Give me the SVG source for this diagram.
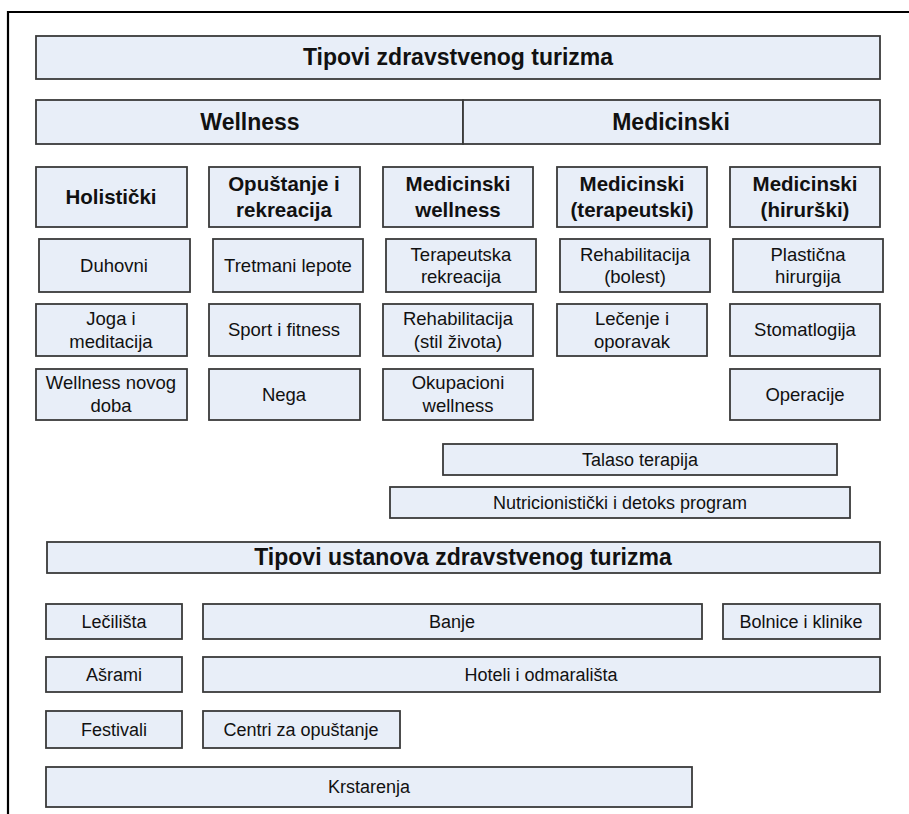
<svg xmlns="http://www.w3.org/2000/svg" width="909" height="814" viewBox="0 0 909 814">
<style>
.b{fill:#e8eef8;stroke:#3a3a3a;stroke-width:1.8}
.t{font-family:"Liberation Sans",Arial,sans-serif;fill:#111;text-anchor:middle}
.h1{font-size:23px;font-weight:bold}
.h2{font-size:20.5px;font-weight:bold}
.s{font-size:18.5px}
.s2{font-size:18px}
</style>
<rect width="909" height="814" fill="#fff"/>
<path d="M8,814 V12 H909" fill="none" stroke="#000" stroke-width="2.2"/>
<g id="connectors"></g>
<g id="title"><rect class="b" x="36" y="36" width="844" height="43"/><text class="t h1" x="458" y="65">Tipovi zdravstvenog turizma</text></g>
<g id="wellness"><rect class="b" x="36" y="100" width="427" height="44"/><text class="t h1" x="250" y="130">Wellness</text></g>
<g id="medicinski"><rect class="b" x="463" y="100" width="417" height="44"/><text class="t h1" x="671" y="130">Medicinski</text></g>

<g id="holisticki"><rect class="b" x="36" y="167" width="151" height="60"/><text class="t h2" x="111" y="204">Holistički</text></g>
<g id="opustanje"><rect class="b" x="209" y="167" width="151" height="60"/><text class="t h2" x="284" y="191">Opuštanje i</text><text class="t h2" x="284" y="217">rekreacija</text></g>
<g id="med-wellness"><rect class="b" x="383" y="167" width="150" height="60"/><text class="t h2" x="458" y="191">Medicinski</text><text class="t h2" x="458" y="217">wellness</text></g>
<g id="med-terapeutski"><rect class="b" x="557" y="167" width="150" height="60"/><text class="t h2" x="632" y="191">Medicinski</text><text class="t h2" x="632" y="217">(terapeutski)</text></g>
<g id="med-hirurski"><rect class="b" x="730" y="167" width="150" height="60"/><text class="t h2" x="805" y="191">Medicinski</text><text class="t h2" x="805" y="217">(hirurški)</text></g>

<g id="duhovni"><rect class="b" x="39" y="239" width="151" height="53"/><text class="t s" x="114" y="272">Duhovni</text></g>
<g id="tretmani"><rect class="b" x="213" y="239" width="150" height="53"/><text class="t s" x="288" y="272">Tretmani lepote</text></g>
<g id="terapeutska"><rect class="b" x="386" y="239" width="150" height="53"/><text class="t s" x="461" y="261">Terapeutska</text><text class="t s" x="461" y="283">rekreacija</text></g>
<g id="rehab-bolest"><rect class="b" x="560" y="239" width="150" height="53"/><text class="t s" x="635" y="261">Rehabilitacija</text><text class="t s" x="635" y="283">(bolest)</text></g>
<g id="plasticna"><rect class="b" x="733" y="239" width="150" height="53"/><text class="t s" x="808" y="261">Plastična</text><text class="t s" x="808" y="283">hirurgija</text></g>

<g id="joga"><rect class="b" x="36" y="304" width="151" height="52"/><text class="t s" x="111" y="325">Joga i</text><text class="t s" x="111" y="348">meditacija</text></g>
<g id="sport"><rect class="b" x="209" y="304" width="151" height="52"/><text class="t s" x="284" y="336">Sport i fitness</text></g>
<g id="rehab-stil"><rect class="b" x="383" y="304" width="150" height="52"/><text class="t s" x="458" y="325">Rehabilitacija</text><text class="t s" x="458" y="348">(stil života)</text></g>
<g id="lecenje"><rect class="b" x="557" y="304" width="150" height="52"/><text class="t s" x="632" y="325">Lečenje i</text><text class="t s" x="632" y="348">oporavak</text></g>
<g id="stomatlogija"><rect class="b" x="730" y="304" width="150" height="52"/><text class="t s" x="805" y="336">Stomatlogija</text></g>

<g id="wellness-novog"><rect class="b" x="36" y="369" width="151" height="51"/><text class="t s" x="111" y="389">Wellness novog</text><text class="t s" x="111" y="412">doba</text></g>
<g id="nega"><rect class="b" x="209" y="369" width="151" height="51"/><text class="t s" x="284" y="401">Nega</text></g>
<g id="okupacioni"><rect class="b" x="383" y="369" width="150" height="51"/><text class="t s" x="458" y="389">Okupacioni</text><text class="t s" x="458" y="412">wellness</text></g>
<g id="operacije"><rect class="b" x="730" y="369" width="150" height="51"/><text class="t s" x="805" y="401">Operacije</text></g>

<g id="talaso"><rect class="b" x="443" y="444" width="394" height="31"/><text class="t s2" x="640" y="466">Talaso terapija</text></g>
<g id="nutri"><rect class="b" x="390" y="487" width="460" height="31"/><text class="t s2" x="620" y="509">Nutricionistički i detoks program</text></g>

<g id="ustanove"><rect class="b" x="47" y="542" width="833" height="31"/><text class="t h1" x="463" y="565">Tipovi ustanova zdravstvenog turizma</text></g>

<g id="lecilista"><rect class="b" x="46" y="604" width="136" height="35"/><text class="t s2" x="114" y="628">Lečilišta</text></g>
<g id="banje"><rect class="b" x="203" y="604" width="499" height="35"/><text class="t s2" x="452" y="628">Banje</text></g>
<g id="bolnice"><rect class="b" x="723" y="604" width="157" height="35"/><text class="t s2" x="801" y="628">Bolnice i klinike</text></g>
<g id="asrami"><rect class="b" x="46" y="657" width="136" height="35"/><text class="t s2" x="114" y="681">Ašrami</text></g>
<g id="hoteli"><rect class="b" x="203" y="657" width="677" height="35"/><text class="t s2" x="541" y="681">Hoteli i odmarališta</text></g>
<g id="festivali"><rect class="b" x="46" y="711" width="136" height="37"/><text class="t s2" x="114" y="736">Festivali</text></g>
<g id="centri"><rect class="b" x="203" y="711" width="197" height="37"/><text class="t s2" x="301" y="736">Centri za opuštanje</text></g>
<g id="krstarenja"><rect class="b" x="46" y="767" width="646" height="40"/><text class="t s2" x="369" y="793">Krstarenja</text></g>
</svg>
